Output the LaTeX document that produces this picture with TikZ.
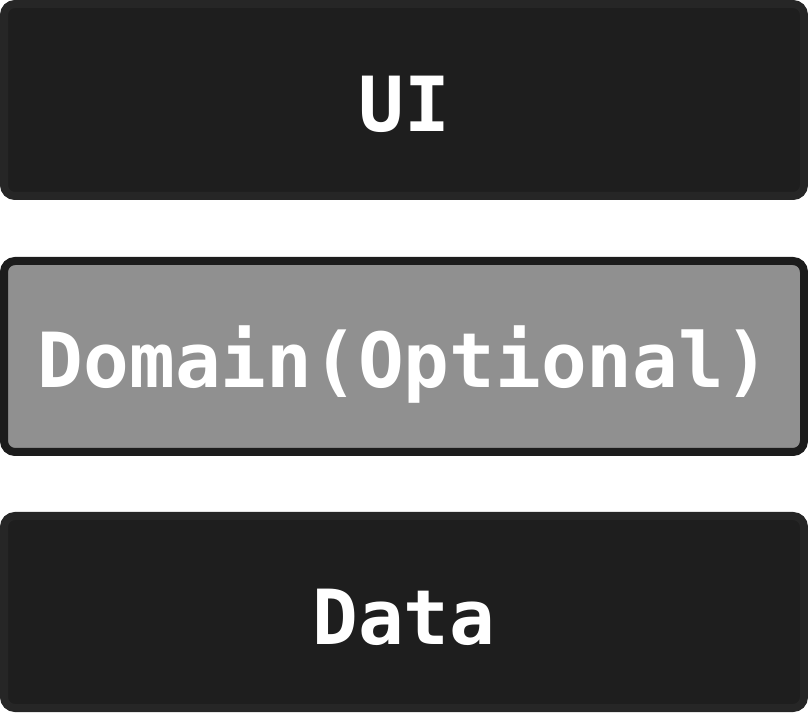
\documentclass[tikz,border=0pt]{standalone}
\usepackage{fontspec}
\setmonofont{DejaVu Sans Mono}
\definecolor{darkfill}{HTML}{1E1E1E}
\definecolor{darkedge}{HTML}{262626}
\definecolor{grayfill}{HTML}{909090}
\definecolor{grayedge}{HTML}{1C1C1C}
\begin{document}
\begin{tikzpicture}[x=1pt,y=1pt,
  layerbox/.style={line width=8pt,rounded corners=11pt},
  darkbox/.style={layerbox,draw=darkedge,fill=darkfill},
  graybox/.style={layerbox,draw=grayedge,fill=grayfill},
  label/.style={anchor=base,text=white,inner sep=0pt,font=\ttfamily\bfseries\fontsize{76}{80}\selectfont}]
\useasboundingbox (0,0) rectangle (808,712);
\draw[darkbox] (4,516) rectangle (804,708);
\draw[graybox] (4,260) rectangle (804,451);
\draw[darkbox] (4,4) rectangle (804,196);
\node[label] (ui) at (404,580) {UI};
\node[label] (domain) at (404,324) {Domain(Optional)};
\node[label] (data) at (404,68) {Data};
\end{tikzpicture}
\end{document}
